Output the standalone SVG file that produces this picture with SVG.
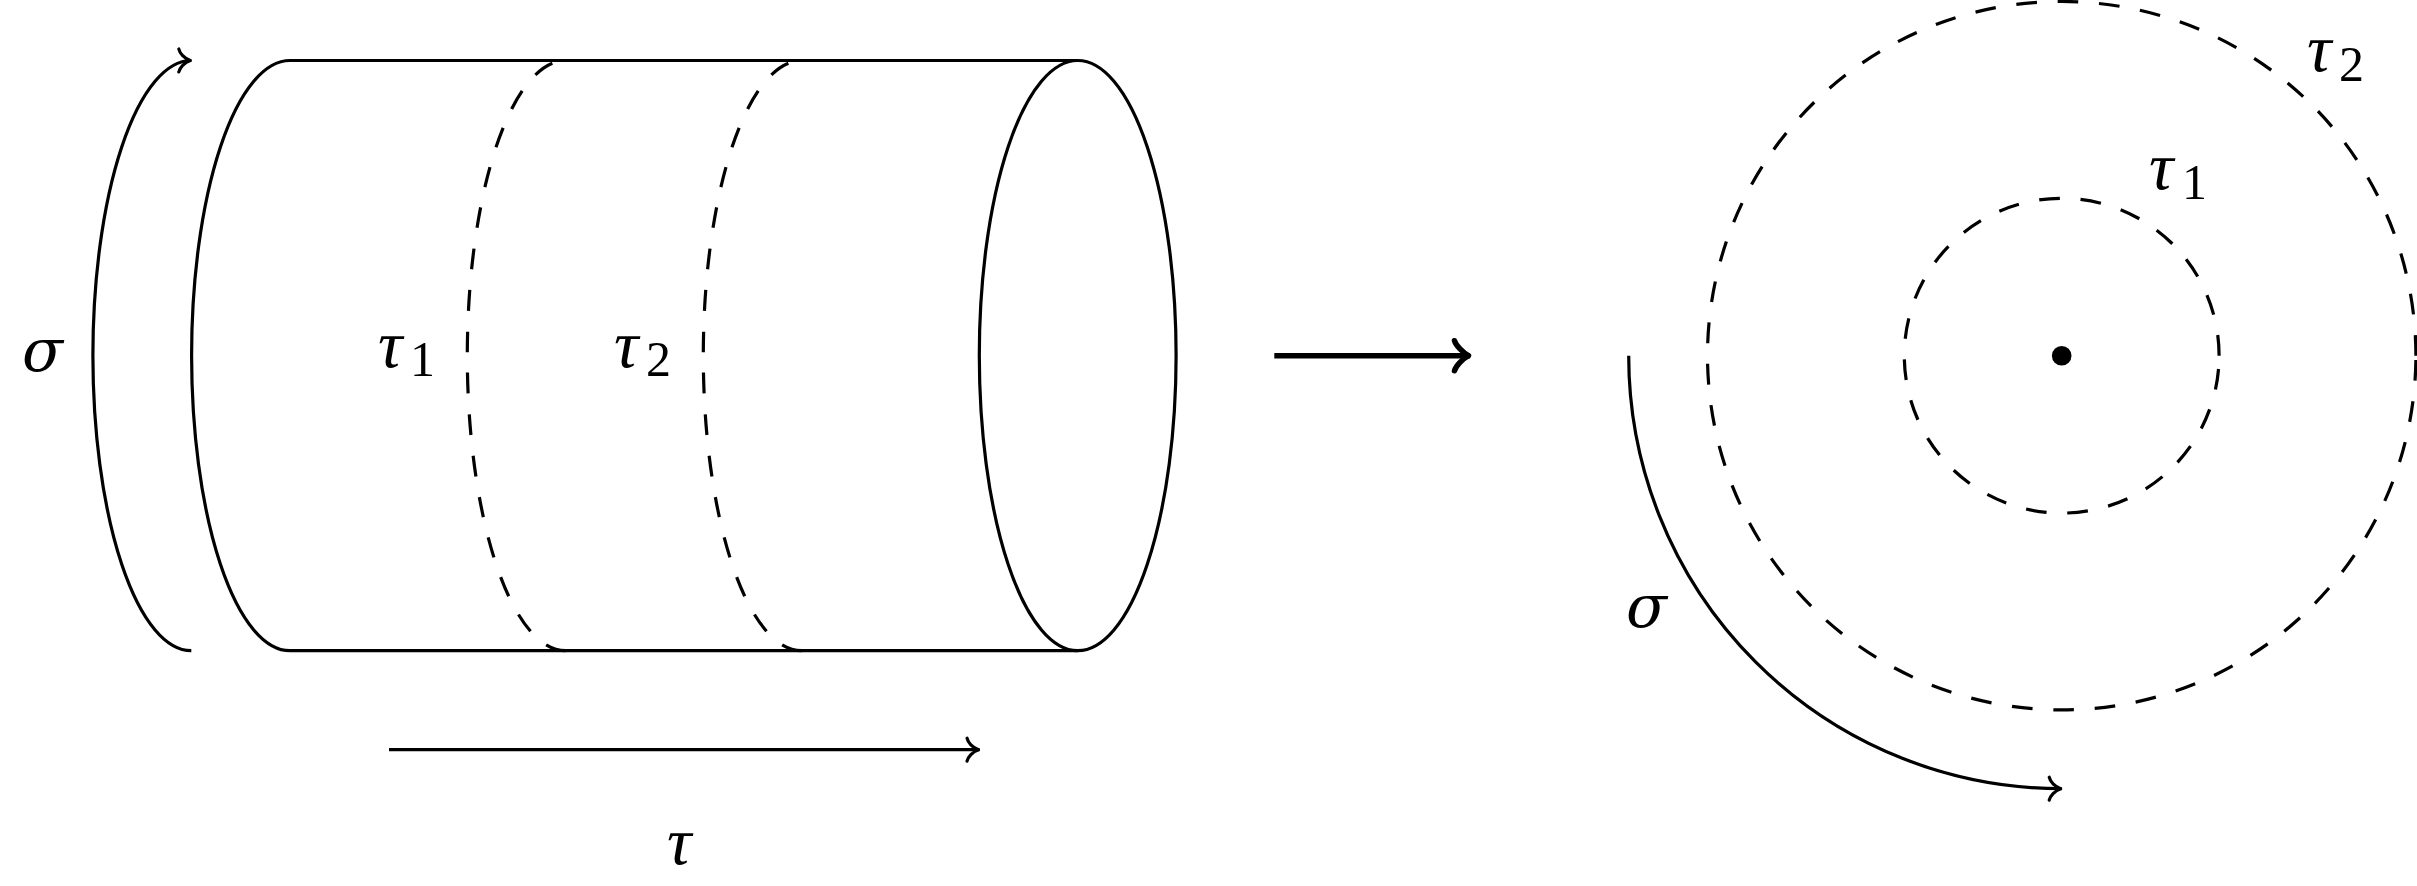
<svg xmlns="http://www.w3.org/2000/svg" width="2417" height="886" viewBox="0 0 2417 886">
<style>
.l{fill:none;stroke:#000;stroke-width:3.2}
.d{stroke-dasharray:20.75 20.75}
.ar{marker-end:url(#to)}
.big{stroke-width:5.5;marker-end:url(#toB)}
.m{font-family:"DejaVu Serif",serif;font-style:italic;font-size:60px;fill:#000}
.t{font-family:"Liberation Serif",serif;font-style:italic;font-size:68px;fill:#000}
.s{font-family:"Liberation Serif",serif;font-size:50px;fill:#000}
</style>
<defs>
<marker id="to" markerUnits="userSpaceOnUse" markerWidth="30" markerHeight="30" refX="16" refY="15" orient="auto" overflow="visible">
<path d="M3.5 3.5C4.5 8 9 13 15 15C9 17 4.5 22 3.5 26.5" fill="none" stroke="#000" stroke-width="3.2" stroke-linecap="round" stroke-linejoin="round"/>
</marker>
<marker id="toB" markerUnits="userSpaceOnUse" markerWidth="40" markerHeight="40" refX="20" refY="20" orient="auto" overflow="visible">
<path d="M4.5 5C6 10 13 17 18.5 20C13 23 6 30 4.5 35" fill="none" stroke="#000" stroke-width="5.5" stroke-linecap="round" stroke-linejoin="round"/>
</marker>
</defs>
<g id="cylinder">
<path class="l" d="M290 60.5H1077.7M290 650.7H1077.7M290 650.7A98.4 295.1 0 0 1 290 60.5"/>
<ellipse class="l" cx="1077.7" cy="355.6" rx="98.4" ry="295.1"/>
</g>
<g id="tau1-loop"><path class="l d" d="M565.7 650.7A98.4 295.1 0 0 1 565.7 60.5"/></g>
<g id="tau2-loop"><path class="l d" d="M801.7 650.7A98.4 295.1 0 0 1 801.7 60.5"/></g>
<g id="disk">
<path class="l d" d="M2219.1 355.7A157.4 157.4 0 1 0 1904.3 355.7A157.4 157.4 0 1 0 2219.1 355.7"/>
<path class="l d" d="M2415.9 355.7A354.2 354.2 0 1 0 1707.5 355.7A354.2 354.2 0 1 0 2415.9 355.7"/>
<circle cx="2061.7" cy="355.7" r="9.8" fill="#000"/>
</g>
<g id="connectors">
<path class="l ar" d="M191.3 650.7A98.4 295.1 0 0 1 191.3 60.5"/>
<path class="l ar" d="M389 749.7H979.5"/>
<path class="l big" d="M1274.3 355.7H1470"/>
<path class="l ar" d="M1628.7 355.7A433 433 0 0 0 2061.7 788.7"/>
</g>
<g id="labels">
<text class="m" x="22" y="371">σ</text>
<text class="t" x="378" y="367">τ</text><text class="s" x="410" y="376">1</text>
<text class="t" x="614" y="367">τ</text><text class="s" x="646" y="376">2</text>
<text class="t" x="667" y="864">τ</text>
<text class="t" x="2149" y="189">τ</text><text class="s" x="2182" y="199">1</text>
<text class="t" x="2307" y="71">τ</text><text class="s" x="2339" y="81">2</text>
<text class="m" x="1626" y="627">σ</text>
</g>
</svg>
